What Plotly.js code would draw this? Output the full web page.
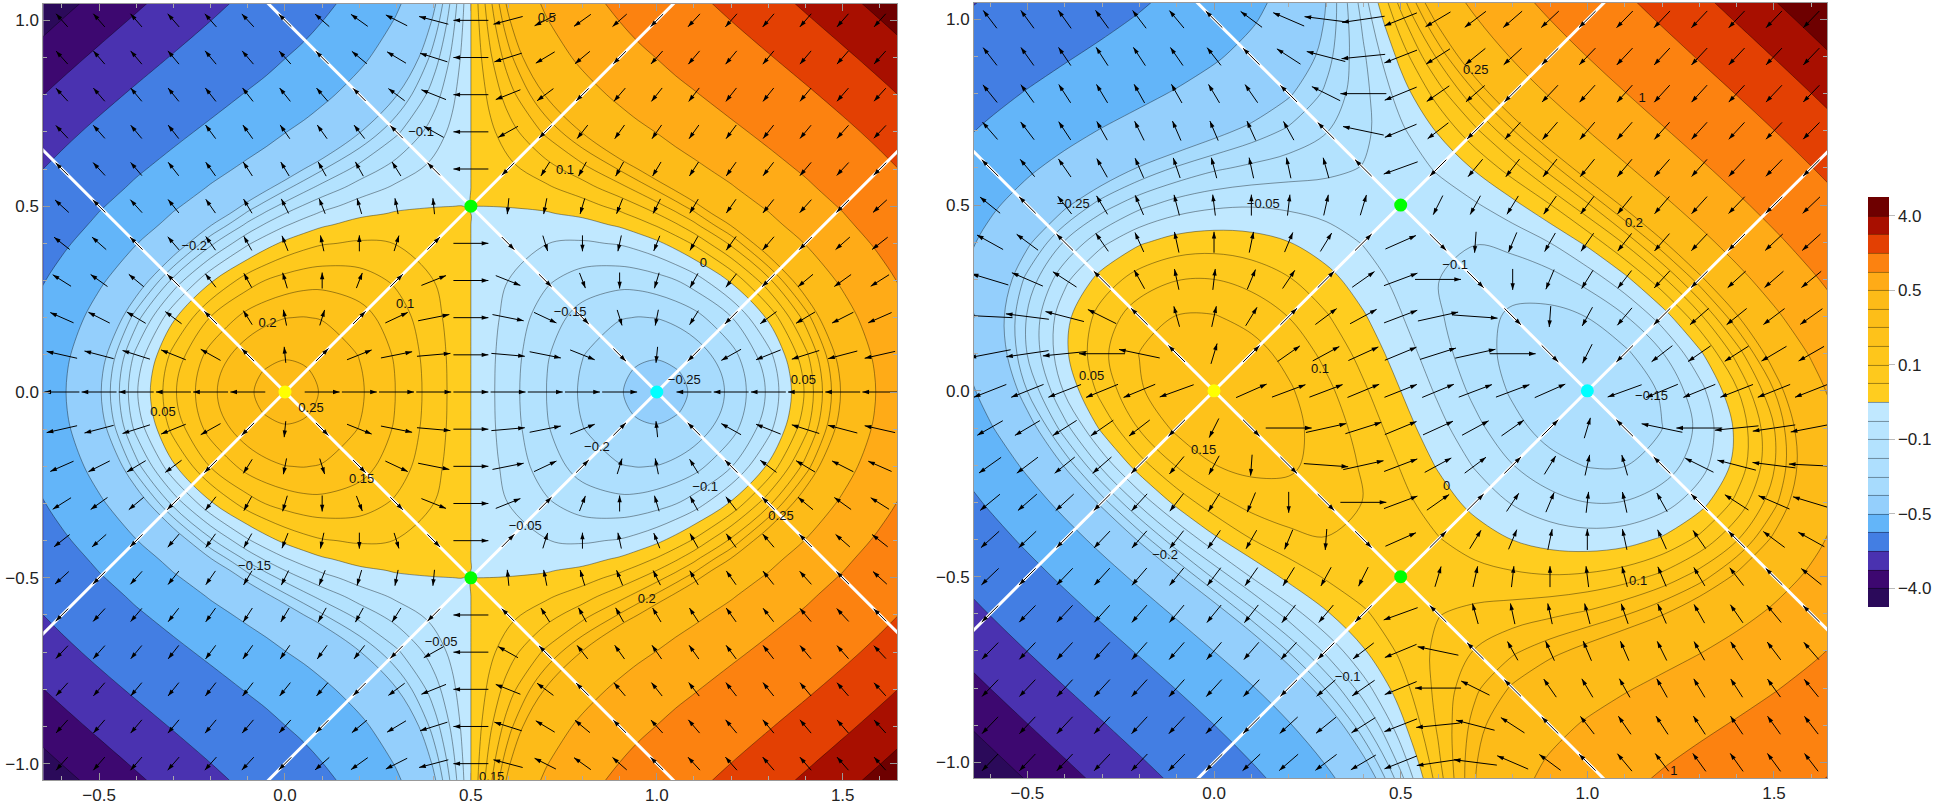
<!DOCTYPE html>
<html><head><meta charset="utf-8"><script src="https://cdn.plot.ly/plotly-3.0.1.min.js"></script>
<style>html,body{margin:0;padding:0;background:#fff}#c{width:1937px;height:805px}</style></head>
<body><div id="c"></div><script>
const levels=[-5,-4,-3,-2,-1,-.5,-.25,-.2,-.15,-.1,-.05,0,.05,.1,.15,.2,.25,.5,1,2,3,4,5];
const bandColors=['#2b0a5a','#3d0870','#4a32b0','#437ee3','#63b5f9','#94cffc','#a7dbfd','#aedffe','#b3e2fe','#b9e5ff','#c0e8ff','#ffcd1f','#fec91d','#fec61b','#fec21a','#fdbe18','#fdbb18','#ffab17','#fc8210','#e34003','#a80f00','#6e0000'];
const tickVals=[1,5,9,13,17,21];
const tickText=['\u22124.0','\u22120.5','\u22120.1','0.1','0.5','4.0'];

const xLeft=[-.7,-.6,-.5,-.4,-.3,-.2,-.1,-.05,0,.05,.1,.2,.3,.4,.45,.48,.5,.52,.55,.6,.7,.8,.9,.95,1,1.05,1.1,1.2,1.3,1.4,1.5,1.6,1.7];
const yLeft=[-1.1,-1,-.9,-.8,-.7,-.6,-.55,-.5,-.48,-.45,-.4,-.3,-.2,-.1,-.05,0,.05,.1,.2,.3,.4,.45,.48,.5,.55,.6,.7,.8,.9,1,1.1];
const L0=[-.866,-.530,-.262,-.056,.092,.190,.246,.258,.262,.258,.248,.208,.148,.078,.039,.0157,0,-.0157,-.039,-.078,-.148,-.208,-.248,-.258,-.262,-.258,-.246,-.190,-.092,.056,.262,.530,.866];
const L05=[-.877,-.539,-.270,-.064,.086,.185,.241,.2536,.258,.2547,.244,.205,.147,.077,.0388,.0156,0,-.0156,-.0388,-.077,-.147,-.205,-.244,-.2547,-.258,-.2536,-.241,-.185,-.086,.064,.270,.539,.877];
const L1=[-.904,-.564,-.293,-.085,.067,.169,.226,.2406,.247,.2441,.235,.198,.143,.074,.038,.0151,0,-.0151,-.038,-.074,-.143,-.198,-.235,-.2441,-.247,-.2406,-.226,-.169,-.067,.085,.293,.564,.904];
const L2=[-1.017,-.667,-.387,-.170,-.008,.103,.170,.1888,.199,.2016,.197,.170,.124,.065,.033,.0132,0,-.0132,-.033,-.065,-.124,-.170,-.197,-.2016,-.199,-.1888,-.170,-.103,.008,.170,.387,.667,1.017];
const L3=[-1.205,-.840,-.544,-.310,-.134,-.007,.076,.1023,.120,.1309,.134,.123,.092,.050,.025,.0100,0,-.0100,-.025,-.050,-.092,-.123,-.134,-.1309,-.120,-.1023,-.076,.007,.134,.310,.544,.840,1.205];
const L4=[-1.469,-1.082,-.763,-.508,-.309,-.161,-.057,-.0187,.011,.0318,.046,.056,.049,.028,.014,.0056,0,-.0056,-.014,-.028,-.049,-.056,-.046,-.0318,-.011,.0187,.057,.161,.309,.508,.763,1.082,1.469];
const L45=[-1.632,-1.231,-.899,-.630,-.417,-.255,-.137,-.0922,-.056,-.0283,-.007,.017,.021,.014,.0073,.0030,0,-.0030,-.0073,-.014,-.021,-.017,.007,.0283,.056,.0922,.137,.255,.417,.630,.899,1.231,1.632];
const L48=[-1.737,-1.327,-.986,-.709,-.487,-.316,-.189,-.1405,-.100,-.0678,-.042,-.010,.004,.005,.0030,.0012,0,-.0012,-.0030,-.005,-.004,.010,.042,.0678,.100,.1405,.189,.316,.487,.709,.986,1.327,1.737];
const L5=[-1.809,-1.392,-1.046,-.762,-.535,-.359,-.226,-.1744,-.131,-.0955,-.067,-.028,-.008,-.001,-.0001,-.00001,0,.00001,.0001,.001,.008,.028,.067,.0955,.131,.1744,.226,.359,.535,.762,1.046,1.392,1.809];
const L55=[-2.009,-1.576,-1.213,-.913,-.669,-.475,-.325,-.2651,-.214,-.1698,-.133,-.078,-.041,-.018,-.0084,-.0033,0,.0033,.0084,.018,.041,.078,.133,.1698,.214,.2651,.325,.475,.669,.913,1.213,1.576,2.009];
const L6=[-2.222,-1.773,-1.391,-1.073,-.812,-.600,-.433,-.3646,-.304,-.2511,-.205,-.131,-.077,-.036,-.017,-.0069,0,.0069,.017,.036,.077,.131,.205,.2511,.304,.3646,.433,.600,.812,1.073,1.391,1.773,2.222];
const L7=[-2.713,-2.221,-1.800,-1.441,-1.138,-.886,-.678,-.5894,-.507,-.4351,-.368,-.254,-.159,-.076,-.038,-.0151,0,.0151,.038,.076,.159,.254,.368,.4351,.507,.5894,.678,.886,1.138,1.441,1.800,2.221,2.713];
const L8=[-3.278,-2.740,-2.271,-1.865,-1.515,-1.216,-.960,-.8488,-.742,-.6473,-.556,-.396,-.253,-.123,-.061,-.0245,0,.0245,.061,.123,.253,.396,.556,.6473,.742,.8488,.960,1.216,1.515,1.865,2.271,2.740,3.278];
const L9=[-3.918,-3.328,-2.805,-2.345,-1.943,-1.589,-1.280,-1.1427,-1.009,-.8878,-.770,-.555,-.360,-.177,-.088,-.0352,0,.0352,.088,.177,.360,.555,.770,.8878,1.009,1.1427,1.280,1.589,1.943,2.345,2.805,3.328,3.918];
const L10=[-4.635,-3.983,-3.402,-2.883,-2.419,-2.007,-1.638,-1.4713,-1.308,-1.1566,-1.008,-.734,-.479,-.237,-.118,-.0472,0,.0472,.118,.237,.479,.734,1.008,1.1566,1.308,1.4713,1.638,2.007,2.419,2.883,3.402,3.983,4.635];
const L11=[-5.425,-4.709,-4.061,-3.476,-2.947,-2.468,-2.035,-1.8344,-1.637,-1.4537,-1.272,-.932,-.611,-.302,-.151,-.0604,0,.0604,.151,.302,.611,.932,1.272,1.4537,1.637,1.8344,2.035,2.468,2.947,3.476,4.061,4.709,5.425];
const zLeft=[L11,L10,L9,L8,L7,L6,L55,L5,L48,L45,L4,L3,L2,L1,L05,L0,L05,L1,L2,L3,L4,L45,L48,L5,L55,L6,L7,L8,L9,L10,L11];

const xRight=[-.7,-.6,-.5,-.4,-.3,-.2,-.1,0,.1,.2,.3,.4,.5,.6,.7,.8,.9,1,1.1,1.2,1.3,1.4,1.5,1.6,1.7];
const yRight=[-1.1,-1,-.9,-.8,-.7,-.6,-.5,-.4,-.3,-.2,-.1,0,.1,.2,.3,.4,.5,.6,.7,.8,.9,1,1.1];
const zRight=[
[-5.830,-5.039,-4.321,-3.673,-3.089,-2.565,-2.095,-1.676,-1.302,-.969,-.671,-.405,-.165,.054,.255,.445,.627,.807,.989,1.178,1.379,1.597,1.835,2.100,2.396],
[-5.006,-4.286,-3.640,-3.060,-2.543,-2.083,-1.677,-1.318,-1.003,-.726,-.484,-.270,-.081,.088,.243,.387,.527,.665,.808,.960,1.126,1.309,1.517,1.753,2.020],
[-4.257,-3.607,-3.025,-2.510,-2.054,-1.655,-1.306,-1.004,-.742,-.518,-.325,-.160,-.017,.108,.220,.325,.425,.528,.636,.756,.890,1.046,1.227,1.437,1.683],
[-3.585,-2.996,-2.477,-2.019,-1.622,-1.277,-.982,-.730,-.519,-.341,-.194,-.072,.029,.115,.190,.258,.326,.396,.476,.566,.676,.808,.966,1.157,1.385],
[-2.984,-2.455,-1.990,-1.589,-1.242,-.949,-.701,-.497,-.329,-.195,-.088,-.005,.060,.111,.153,.191,.229,.274,.326,.396,.484,.596,.738,.914,1.128],
[-2.455,-1.978,-1.567,-1.213,-.916,-.666,-.464,-.300,-.173,-.076,-.006,.044,.077,.098,.112,.124,.139,.159,.194,.244,.316,.414,.544,.709,.915],
[-1.994,-1.567,-1.201,-.894,-.637,-.431,-.265,-.140,-.047,.016,.056,.076,.082,.078,.069,.060,.054,.059,.077,.114,.174,.264,.385,.545,.747],
[-1.601,-1.217,-.894,-.625,-.409,-.236,-.107,-.012,.049,.085,.098,.094,.077,.053,.026,-.001,-.020,-.028,-.021,.007,.062,.145,.265,.423,.627],
[-1.272,-.928,-.641,-.409,-.224,-.085,.017,.082,.120,.131,.123,.099,.065,.025,-.017,-.054,-.083,-.100,-.098,-.073,-.022,.063,.183,.347,.555],
[-1.007,-.696,-.443,-.240,-.085,.029,.104,.149,.164,.158,.132,.094,.047,-.005,-.055,-.099,-.134,-.153,-.152,-.127,-.072,.016,.145,.315,.536],
[-.802,-.522,-.295,-.119,.013,.104,.161,.186,.187,.165,.129,.080,.024,-.033,-.087,-.135,-.169,-.186,-.182,-.151,-.089,.010,.148,.334,.568],
[-.658,-.401,-.199,-.043,.069,.144,.185,.198,.187,.157,.113,.058,0,-.058,-.113,-.157,-.187,-.198,-.185,-.144,-.069,.043,.199,.401,.658],
[-.568,-.334,-.148,-.010,.089,.151,.182,.186,.169,.135,.087,.033,-.024,-.080,-.129,-.165,-.187,-.186,-.161,-.104,-.013,.119,.295,.522,.802],
[-.536,-.315,-.145,-.016,.072,.127,.152,.153,.134,.099,.055,.005,-.047,-.094,-.132,-.158,-.164,-.149,-.104,-.029,.085,.240,.443,.696,1.007],
[-.555,-.347,-.183,-.063,.022,.073,.098,.100,.083,.054,.017,-.025,-.065,-.099,-.123,-.131,-.120,-.082,-.017,.085,.224,.409,.641,.928,1.272],
[-.627,-.423,-.265,-.145,-.062,-.007,.021,.028,.020,.001,-.026,-.053,-.077,-.094,-.098,-.085,-.049,.012,.107,.236,.409,.625,.894,1.217,1.601],
[-.747,-.545,-.385,-.264,-.174,-.114,-.077,-.059,-.054,-.060,-.069,-.078,-.082,-.076,-.056,-.016,.047,.140,.265,.431,.637,.894,1.201,1.567,1.994],
[-.915,-.709,-.544,-.414,-.316,-.244,-.194,-.159,-.139,-.124,-.112,-.098,-.077,-.044,.006,.076,.173,.300,.464,.666,.916,1.213,1.567,1.978,2.455],
[-1.128,-.914,-.738,-.596,-.484,-.396,-.326,-.274,-.229,-.191,-.153,-.111,-.060,.005,.088,.195,.329,.497,.701,.949,1.242,1.589,1.990,2.455,2.984],
[-1.385,-1.157,-.966,-.808,-.676,-.566,-.476,-.396,-.326,-.258,-.190,-.115,-.029,.072,.194,.341,.519,.730,.982,1.277,1.622,2.019,2.477,2.996,3.585],
[-1.683,-1.437,-1.227,-1.046,-.890,-.756,-.636,-.528,-.425,-.325,-.220,-.108,.017,.160,.325,.518,.742,1.004,1.306,1.655,2.054,2.510,3.025,3.607,4.257],
[-2.020,-1.753,-1.517,-1.309,-1.126,-.960,-.808,-.665,-.527,-.387,-.243,-.088,.081,.270,.484,.726,1.003,1.318,1.677,2.083,2.543,3.060,3.640,4.286,5.006],
[-2.396,-2.100,-1.835,-1.597,-1.379,-1.178,-.989,-.807,-.627,-.445,-.255,-.054,.165,.405,.671,.969,1.302,1.676,2.095,2.565,3.089,3.673,4.321,5.039,5.830]];

const arrowXs=[-.6,-.5,-.4,-.3,-.2,-.1,0,.1,.2,.3,.4,.5,.6,.7,.8,.9,1,1.1,1.2,1.3,1.4,1.5,1.6];
const arrowYs=[-1,-.9,-.8,-.7,-.6,-.5,-.4,-.3,-.2,-.1,0,.1,.2,.3,.4,.5,.6,.7,.8,.9,1];
const FX0=[-96,-75,-56,-39,-24,-11,0,9,16,21,24,25,24,21,16,9,0,-11,-24,-39,-56,-75,-96];
const FX1=[-97,-76,-57,-40,-25,-12,-1,8,15,20,23,24,23,20,15,8,-1,-12,-25,-40,-57,-76,-97];
const FX2=[-100,-79,-60,-43,-28,-15,-4,5,12,17,20,21,20,17,12,5,-4,-15,-28,-43,-60,-79,-100];
const FX3=[-105,-84,-65,-48,-33,-20,-9,0,7,12,15,16,15,12,7,0,-9,-20,-33,-48,-65,-84,-105];
const FX4=[-112,-91,-72,-55,-40,-27,-16,-7,0,5,8,9,8,5,0,-7,-16,-27,-40,-55,-72,-91,-112];
const FX5=[-121,-100,-81,-64,-49,-36,-25,-16,-9,-4,-1,0,-1,-4,-9,-16,-25,-36,-49,-64,-81,-100,-121];
const FX6=[-132,-111,-92,-75,-60,-47,-36,-27,-20,-15,-12,-11,-12,-15,-20,-27,-36,-47,-60,-75,-92,-111,-132];
const FX7=[-145,-124,-105,-88,-73,-60,-49,-40,-33,-28,-25,-24,-25,-28,-33,-40,-49,-60,-73,-88,-105,-124,-145];
const FX8=[-160,-139,-120,-103,-88,-75,-64,-55,-48,-43,-40,-39,-40,-43,-48,-55,-64,-75,-88,-103,-120,-139,-160];
const FX9=[-177,-156,-137,-120,-105,-92,-81,-72,-65,-60,-57,-56,-57,-60,-65,-72,-81,-92,-105,-120,-137,-156,-177];
const FX10=[-196,-175,-156,-139,-124,-111,-100,-91,-84,-79,-76,-75,-76,-79,-84,-91,-100,-111,-124,-139,-156,-175,-196];
const fieldXLeft=[FX10,FX9,FX8,FX7,FX6,FX5,FX4,FX3,FX2,FX1,FX0,FX1,FX2,FX3,FX4,FX5,FX6,FX7,FX8,FX9,FX10];
const fieldYLeft=[
[-220,-200,-180,-160,-140,-120,-100,-80,-60,-40,-20,0,20,40,60,80,100,120,140,160,180,200,220],
[-198,-180,-162,-144,-126,-108,-90,-72,-54,-36,-18,0,18,36,54,72,90,108,126,144,162,180,198],
[-176,-160,-144,-128,-112,-96,-80,-64,-48,-32,-16,0,16,32,48,64,80,96,112,128,144,160,176],
[-154,-140,-126,-112,-98,-84,-70,-56,-42,-28,-14,0,14,28,42,56,70,84,98,112,126,140,154],
[-132,-120,-108,-96,-84,-72,-60,-48,-36,-24,-12,0,12,24,36,48,60,72,84,96,108,120,132],
[-110,-100,-90,-80,-70,-60,-50,-40,-30,-20,-10,0,10,20,30,40,50,60,70,80,90,100,110],
[-88,-80,-72,-64,-56,-48,-40,-32,-24,-16,-8,0,8,16,24,32,40,48,56,64,72,80,88],
[-66,-60,-54,-48,-42,-36,-30,-24,-18,-12,-6,0,6,12,18,24,30,36,42,48,54,60,66],
[-44,-40,-36,-32,-28,-24,-20,-16,-12,-8,-4,0,4,8,12,16,20,24,28,32,36,40,44],
[-22,-20,-18,-16,-14,-12,-10,-8,-6,-4,-2,0,2,4,6,8,10,12,14,16,18,20,22],
[0,0,0,0,0,0,0,0,0,0,0,0,0,0,0,0,0,0,0,0,0,0,0],
[22,20,18,16,14,12,10,8,6,4,2,0,-2,-4,-6,-8,-10,-12,-14,-16,-18,-20,-22],
[44,40,36,32,28,24,20,16,12,8,4,0,-4,-8,-12,-16,-20,-24,-28,-32,-36,-40,-44],
[66,60,54,48,42,36,30,24,18,12,6,0,-6,-12,-18,-24,-30,-36,-42,-48,-54,-60,-66],
[88,80,72,64,56,48,40,32,24,16,8,0,-8,-16,-24,-32,-40,-48,-56,-64,-72,-80,-88],
[110,100,90,80,70,60,50,40,30,20,10,0,-10,-20,-30,-40,-50,-60,-70,-80,-90,-100,-110],
[132,120,108,96,84,72,60,48,36,24,12,0,-12,-24,-36,-48,-60,-72,-84,-96,-108,-120,-132],
[154,140,126,112,98,84,70,56,42,28,14,0,-14,-28,-42,-56,-70,-84,-98,-112,-126,-140,-154],
[176,160,144,128,112,96,80,64,48,32,16,0,-16,-32,-48,-64,-80,-96,-112,-128,-144,-160,-176],
[198,180,162,144,126,108,90,72,54,36,18,0,-18,-36,-54,-72,-90,-108,-126,-144,-162,-180,-198],
[220,200,180,160,140,120,100,80,60,40,20,0,-20,-40,-60,-80,-100,-120,-140,-160,-180,-200,-220]];
const fieldXRight=[
[-284,-255,-228,-203,-180,-159,-140,-123,-108,-95,-84,-75,-68,-63,-60,-59,-60,-63,-68,-75,-84,-95,-108],
[-256,-228,-202,-178,-155,-135,-117,-101,-87,-74,-64,-56,-50,-46,-43,-43,-45,-49,-55,-62,-72,-84,-98],
[-230,-203,-178,-154,-133,-113,-96,-81,-67,-56,-46,-39,-34,-30,-29,-29,-32,-37,-43,-52,-62,-75,-90],
[-207,-180,-155,-133,-112,-94,-77,-62,-50,-39,-31,-24,-19,-17,-16,-18,-21,-26,-34,-43,-55,-68,-83],
[-185,-159,-135,-113,-94,-76,-60,-46,-34,-25,-17,-11,-7,-5,-6,-8,-12,-18,-26,-37,-49,-63,-79],
[-165,-140,-117,-96,-77,-60,-45,-32,-21,-12,-5,0,3,4,3,0,-5,-12,-21,-32,-45,-60,-77],
[-147,-123,-101,-81,-62,-46,-32,-20,-10,-1,5,9,11,11,10,6,0,-8,-18,-29,-43,-59,-77],
[-131,-108,-87,-67,-50,-34,-21,-10,0,7,13,16,17,17,14,10,3,-6,-16,-29,-43,-60,-79],
[-118,-95,-74,-56,-39,-25,-12,-1,7,14,18,21,22,20,17,11,4,-5,-17,-30,-46,-63,-82],
[-106,-84,-64,-46,-31,-17,-5,5,13,18,22,24,24,22,17,11,3,-7,-19,-34,-50,-68,-88],
[-96,-75,-56,-39,-24,-11,0,9,16,21,24,25,24,21,16,9,0,-11,-24,-39,-56,-75,-96],
[-88,-68,-50,-34,-19,-7,3,11,17,22,24,24,22,18,13,5,-5,-17,-31,-46,-64,-84,-106],
[-82,-63,-46,-30,-17,-5,4,11,17,20,22,21,18,14,7,-1,-12,-25,-39,-56,-74,-95,-118],
[-79,-60,-43,-29,-16,-6,3,10,14,17,17,16,13,7,0,-10,-21,-34,-50,-67,-87,-108,-131],
[-77,-59,-43,-29,-18,-8,0,6,10,11,11,9,5,-1,-10,-20,-32,-46,-62,-81,-101,-123,-147],
[-77,-60,-45,-32,-21,-12,-5,0,3,4,3,0,-5,-12,-21,-32,-45,-60,-77,-96,-117,-140,-165],
[-79,-63,-49,-37,-26,-18,-12,-8,-6,-5,-7,-11,-17,-25,-34,-46,-60,-76,-94,-113,-135,-159,-185],
[-83,-68,-55,-43,-34,-26,-21,-18,-16,-17,-19,-24,-31,-39,-50,-62,-77,-94,-112,-133,-155,-180,-207],
[-90,-75,-62,-52,-43,-37,-32,-29,-29,-30,-34,-39,-46,-56,-67,-81,-96,-113,-133,-154,-178,-203,-230],
[-98,-84,-72,-62,-55,-49,-45,-43,-43,-46,-50,-56,-64,-74,-87,-101,-117,-135,-155,-178,-202,-228,-256],
[-108,-95,-84,-75,-68,-63,-60,-59,-60,-63,-68,-75,-84,-95,-108,-123,-140,-159,-180,-203,-228,-255,-284]];
const fieldYRight=[
[-298,-270,-242,-216,-190,-164,-140,-116,-94,-72,-50,-30,-10,8,26,44,60,76,90,104,118,130,142],
[-269,-242,-217,-192,-168,-145,-122,-101,-80,-60,-41,-22,-5,12,28,43,58,71,84,96,107,118,127],
[-240,-216,-192,-169,-147,-126,-106,-86,-67,-49,-32,-16,0,15,29,42,54,66,77,87,96,104,112],
[-212,-190,-168,-147,-127,-108,-90,-72,-55,-39,-24,-10,4,17,29,40,50,60,69,77,84,90,96],
[-185,-164,-145,-126,-108,-91,-74,-59,-44,-30,-17,-4,7,18,28,37,46,53,60,66,71,76,79],
[-158,-140,-122,-106,-90,-74,-60,-46,-34,-22,-10,0,10,18,26,34,40,46,50,54,58,60,62],
[-133,-116,-101,-86,-72,-59,-46,-35,-24,-14,-5,4,11,18,24,29,34,37,40,42,43,44,43],
[-108,-94,-80,-67,-55,-44,-34,-24,-15,-7,0,6,12,17,21,24,26,28,29,29,28,26,24],
[-84,-72,-60,-49,-39,-30,-22,-14,-7,-1,4,8,12,15,17,18,18,18,17,15,12,8,4],
[-61,-50,-41,-32,-24,-17,-10,-5,0,4,7,10,11,12,12,11,10,7,4,0,-5,-10,-17],
[-38,-30,-22,-16,-10,-4,0,4,6,8,10,10,10,8,6,4,0,-4,-10,-16,-22,-30,-38],
[-17,-10,-5,0,4,7,10,11,12,12,11,10,7,4,0,-5,-10,-17,-24,-32,-41,-50,-61],
[4,8,12,15,17,18,18,18,17,15,12,8,4,-1,-7,-14,-22,-30,-39,-49,-60,-72,-84],
[24,26,28,29,29,28,26,24,21,17,12,6,0,-7,-15,-24,-34,-44,-55,-67,-80,-94,-108],
[43,44,43,42,40,37,34,29,24,18,11,4,-5,-14,-24,-35,-46,-59,-72,-86,-101,-116,-133],
[62,60,58,54,50,46,40,34,26,18,10,0,-10,-22,-34,-46,-60,-74,-90,-106,-122,-140,-158],
[79,76,71,66,60,53,46,37,28,18,7,-4,-17,-30,-44,-59,-74,-91,-108,-126,-145,-164,-185],
[96,90,84,77,69,60,50,40,29,17,4,-10,-24,-39,-55,-72,-90,-108,-127,-147,-168,-190,-212],
[112,104,96,87,77,66,54,42,29,15,0,-16,-32,-49,-67,-86,-106,-126,-147,-169,-192,-216,-240],
[127,118,107,96,84,71,58,43,28,12,-5,-22,-41,-60,-80,-101,-122,-145,-168,-192,-217,-242,-269],
[142,130,118,104,90,76,60,44,26,8,-10,-30,-50,-72,-94,-116,-140,-164,-190,-216,-242,-270,-298]];

const arrowAngleTable=[0,12,17,22,30,45,60,90];
const arrowLengthTable=[.094,.085,.078,.071,.060,.048,.044,.043];
const arrowScaleLeft=1, arrowScaleRight=1.31;

const invariantX=[-2,3,null,-2,3,null,-2,3,null,-2,3];
const invariantY=[-2,3,null,2,-3,null,3,-2,null,-3,2];
const pointX=[0,1,.5,.5], pointY=[0,0,.5,-.5], pointColor=['#ffff00','#00ffff','#00ff00','#00ff00'];

const labelXLeft=[.366,-.244,.323,-.047,.07,1.074,.767,-.328,1.394,1.125,.206,.839,1.13,.646,1.334,.973,-.082,.42,.753,.704,.556];
const labelYLeft=[.697,.391,.235,.184,-.044,.03,.213,-.056,.03,.344,-.237,-.15,-.258,-.363,-.335,-.558,-.471,-.674,.594,1.005,-1.037];
const labelTextLeft=['\u22120.1','\u22120.2','0.1','0.2','0.25','\u22120.25','\u22120.15','0.05','0.05','0','0.15','\u22120.2','\u22120.1','\u22120.05','0.25','0.2','\u22120.15','\u22120.05','0.1','0.5','0.15'];
const labelXRight=[-.377,.132,-.328,.284,.701,1.125,.646,1.172,-.028,.623,1.136,.358,1.232,-.131,1.147];
const labelYRight=[.5,.5,.038,.058,.861,.45,.338,-.015,-.16,-.258,-.514,-.773,-1.025,-.445,.787];
const labelTextRight=['\u22120.25','\u22120.05','0.05','0.1','0.25','0.2','\u22120.1','\u22120.15','0.15','0','0.1','\u22120.1','1','\u22120.2','1'];

const FONT='"Liberation Sans",Arial,sans-serif';
const colorscale=[];
bandColors.forEach((c,i)=>{colorscale.push([i/22,c]);colorscale.push([(i+1)/22,c]);});
// lowest band under the level stack; this trace also owns the colour bar, whose scale is evenly spaced per band
function base(xs,ys,xa,ya,showscale){
  return {type:'contour',x:xs,y:ys,z:ys.map(()=>xs.map(()=>.5)),xaxis:xa,yaxis:ya,autocontour:false,
    contours:{start:1,end:21,size:1,coloring:'fill',showlines:true},
    line:{color:'rgba(0,0,0,0.42)',width:.9},
    colorscale:colorscale,zmin:0,zmax:22,zauto:false,showscale:showscale,hoverinfo:'skip',
    colorbar:{x:1868/1937,xanchor:'left',xpad:0,y:198/805,yanchor:'bottom',ypad:0,thickness:21,thicknessmode:'pixels',
      len:410/805,lenmode:'fraction',outlinewidth:0,tickmode:'array',tickvals:tickVals,ticktext:tickText,ticks:'outside',ticklen:6,
      tickcolor:'#bbb',tickfont:{family:FONT,size:17,color:'#222'}}};
}
// one single-level contour per level, transparent below the level and band colour above it
function stack(xs,ys,z,xa,ya){
  const out=[];
  for(let k=1;k<=21;k++){
    const c=bandColors[k];
    out.push({type:'contour',x:xs,y:ys,z:z.map(r=>r.slice()),xaxis:xa,yaxis:ya,showscale:false,hoverinfo:'skip',autocontour:false,
      contours:{start:levels[k],end:levels[k]+50,size:100,coloring:'fill',showlines:true},
      colorscale:[[0,'rgba(0,0,0,0)'],[.5,'rgba(0,0,0,0)'],[.5,c],[1,c]],
      line:{color:'rgba(0,0,0,0.42)',width:.9,smoothing:1}});
  }
  return out;
}
function arrowLen(deg,scale){
  let a=Math.abs(deg)%180; if(a>90)a=180-a;
  let i=0;while(i<arrowAngleTable.length-2&&a>arrowAngleTable[i+1])i++;
  const t=(a-arrowAngleTable[i])/(arrowAngleTable[i+1]-arrowAngleTable[i]);
  return (arrowLengthTable[i]+t*(arrowLengthTable[i+1]-arrowLengthTable[i]))*scale;
}
function arrows(fx,fy,scale,xa,ya){
  const lx=[],ly=[],hx=[],hy=[],ang=[];
  arrowYs.forEach((y,r)=>arrowXs.forEach((x,c)=>{
    const u=fx[r][c],v=fy[r][c];
    if(u===0&&v===0)return;
    const d=Math.atan2(v,u)*180/Math.PI,L=arrowLen(d,scale),cx=Math.cos(d*Math.PI/180),cy=Math.sin(d*Math.PI/180);
    lx.push(x-cx*L/2,x+cx*L/2,null);ly.push(y-cy*L/2,y+cy*L/2,null);
    hx.push(x+cx*L/2);hy.push(y+cy*L/2);ang.push(90-d);
  }));
  return [
    {type:'scatter',mode:'lines',x:lx,y:ly,xaxis:xa,yaxis:ya,line:{color:'#000',width:1},hoverinfo:'skip',showlegend:false},
    {type:'scatter',mode:'markers',x:hx,y:hy,xaxis:xa,yaxis:ya,marker:{symbol:'arrow',size:7,angle:ang,color:'#000',line:{width:0}},hoverinfo:'skip',showlegend:false}];
}
function overlay(xa,ya,lx,ly,lt,fx,fy,scale){
  return [
    {type:'scatter',mode:'lines',x:invariantX,y:invariantY,xaxis:xa,yaxis:ya,line:{color:'#fff',width:3},hoverinfo:'skip',showlegend:false},
    ...arrows(fx,fy,scale,xa,ya),
    {type:'scatter',mode:'markers',x:pointX,y:pointY,xaxis:xa,yaxis:ya,marker:{size:13,color:pointColor,line:{width:0}},hoverinfo:'skip',showlegend:false},
    {type:'scatter',mode:'text',x:lx,y:ly,text:lt,xaxis:xa,yaxis:ya,textposition:'middle center',textfont:{family:FONT,size:13,color:'#111'},hoverinfo:'skip',showlegend:false}];
}
function axis(range,domain,anchor){
  return {range:range,domain:domain,anchor:anchor,tick0:0,dtick:.5,tickformat:'.1f',ticks:'inside',ticklen:7,tickwidth:1,tickcolor:'#999',
    minor:{dtick:.1,tick0:0,ticks:'inside',ticklen:4,tickwidth:1,tickcolor:'#aaa',showgrid:false},
    showline:true,linecolor:'#999',linewidth:1,mirror:'allticks',showgrid:false,zeroline:false,
    tickfont:{family:FONT,size:17,color:'#222'}};
}
const data=[base(xLeft,yLeft,'x','y',false),...stack(xLeft,yLeft,zLeft,'x','y'),
  base(xRight,yRight,'x2','y2',true),...stack(xRight,yRight,zRight,'x2','y2'),
  ...overlay('x','y',labelXLeft,labelYLeft,labelTextLeft,fieldXLeft,fieldYLeft,arrowScaleLeft),
  ...overlay('x2','y2',labelXRight,labelYRight,labelTextRight,fieldXRight,fieldYRight,arrowScaleRight)];
const layout={width:1937,height:805,margin:{l:0,r:0,t:0,b:0},paper_bgcolor:'#fff',plot_bgcolor:'#fff',showlegend:false,
  xaxis:axis([-.65,1.646],[43.3/1937,897/1937],'y'),
  yaxis:axis([-1.044,1.044],[25/805,801/805],'x'),
  xaxis2:axis([-.643,1.642],[974/1937,1827/1937],'y2'),
  yaxis2:axis([-1.042,1.044],[27/805,802/805],'x2')};
Plotly.newPlot('c',data,layout,{staticPlot:true,displayModeBar:false});
</script></body></html>
